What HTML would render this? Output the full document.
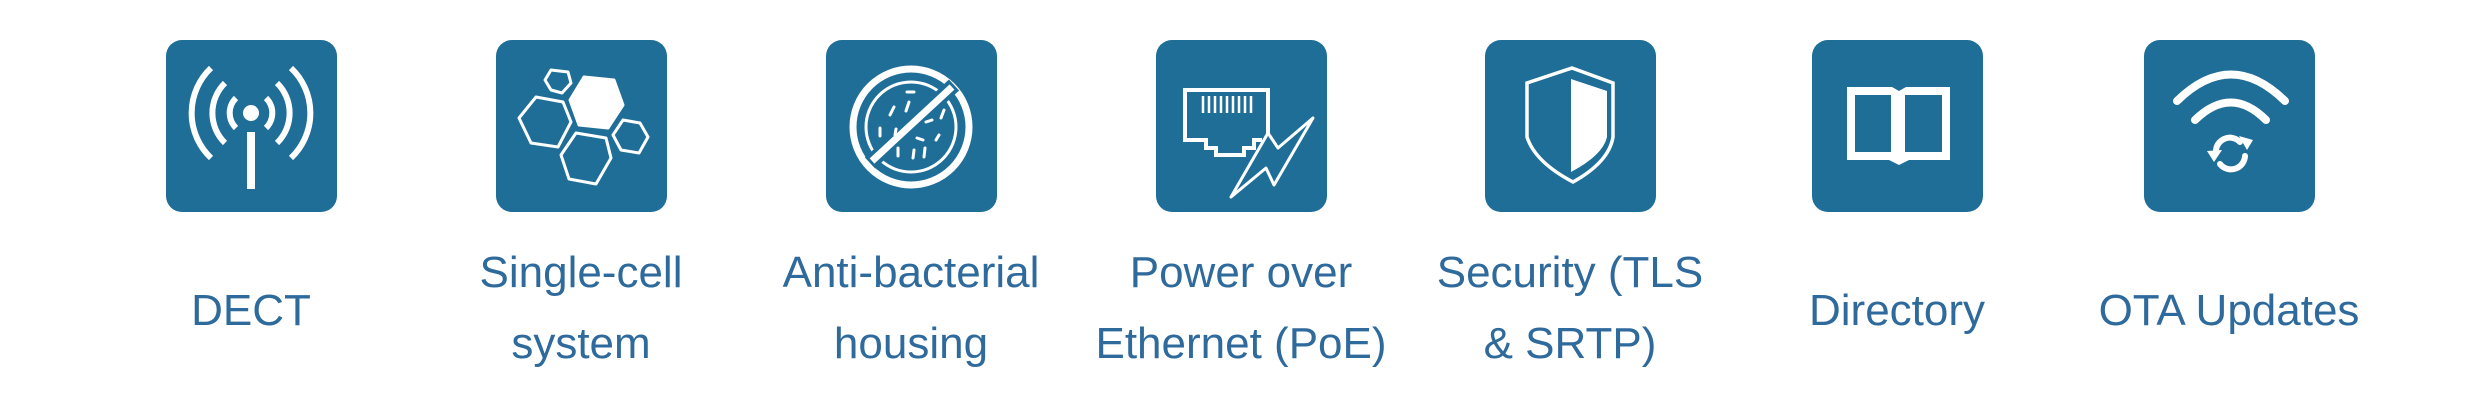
<!DOCTYPE html>
<html><head><meta charset="utf-8"><style>
html,body{margin:0;padding:0;background:#fff;}
body{width:2479px;height:404px;position:relative;overflow:hidden;font-family:"Liberation Sans",sans-serif;}
.box{position:absolute;top:40px;width:171px;height:172px;background:#1f6e98;border-radius:16px;}
.box svg{position:absolute;left:0;top:0;}
.lbl{position:absolute;width:330px;text-align:center;color:#2f6a9c;font-size:44px;line-height:71px;}
</style></head><body>

<div class="box" style="left:166px"><svg width="171" height="172" viewBox="0 0 171 172" fill="none" stroke="#fff">
<circle cx="85" cy="73" r="8" fill="#fff" stroke="none"/>
<rect x="81" y="92" width="8" height="57" fill="#fff" stroke="none"/>
<g stroke-width="6">
<path d="M70 58 A21 21 0 0 0 70 88"/><path d="M100 58 A21 21 0 0 1 100 88"/>
<path d="M59 43 A42 42 0 0 0 59 103"/><path d="M111 43 A42 42 0 0 1 111 103"/>
<path d="M45 28 A62 62 0 0 0 45 118"/><path d="M125 28 A62 62 0 0 1 125 118"/>
</g></svg></div>

<div class="box" style="left:496px"><svg width="171" height="172" viewBox="0 0 171 172" fill="none" stroke="#fff" stroke-width="3" stroke-linejoin="round">
<polygon points="55,30 72,32 75,43 66,53 55,50 49,40"/>
<polygon points="88,37 118,40 127,65 112,88 83,85 74,60" fill="#fff"/>
<polygon points="40,57 67,62 75,82 62,107 35,103 23,78"/>
<polygon points="80,93 110,98 115,118 100,144 73,139 65,115"/>
<polygon points="127,80 144,83 152,97 143,113 125,110 117,95"/>
</svg></div>

<div class="box" style="left:826px"><svg width="171" height="172" viewBox="0 0 171 172" fill="none" stroke="#fff">
<circle cx="85" cy="87" r="58" stroke-width="7"/>
<circle cx="85" cy="87" r="45" stroke-width="3"/>
<line x1="128" y1="45" x2="44" y2="123" stroke-width="15" stroke="#1f6e98"/>
<line x1="126" y1="47" x2="46" y2="121" stroke-width="7"/>
<g stroke-width="3" stroke-linecap="round">
<path d="M81 52 h7"/><path d="M83 62 l-3 9"/><path d="M68 67 l-4 8"/><path d="M54 88 v8"/><path d="M70 89 l-1 6"/><path d="M100 82 l6 -2"/><path d="M118 70 l-3 8"/><path d="M91 98 l6 2"/><path d="M113 95 l-3 5"/><path d="M72 108 v8"/><path d="M88 110 l-1 8"/><path d="M99 108 l-1 9"/></g>
</svg></div>

<div class="box" style="left:1156px"><svg width="171" height="172" viewBox="0 0 171 172" fill="none" stroke="#fff" stroke-width="4">
<path d="M112 94 V50 H29 V100 H50 V108 H60 V115 H88 V108 H98 V100 H106"/>
<g stroke-width="2.5"><path d="M47 56 v17 M53 56 v17 M59 56 v17 M65 56 v17 M71 56 v17 M77 56 v17 M83 56 v17 M89 56 v17 M95 56 v17"/></g>
<polygon points="75,157 112,93 122,108 157,78 118,145 110,128" stroke-width="3" stroke-linejoin="round"/>
</svg></div>

<div class="box" style="left:1485px"><svg width="171" height="172" viewBox="0 0 171 172" fill="none" stroke="#fff" stroke-width="3.5">
<path d="M87 28 L128 43 V97 Q124 122 88 142 Q50 122 42 97 V43 Z"/>
<path d="M86 39 L122 51 V97 Q118 115 86 132 Z" fill="#fff" stroke="none"/>
</svg></div>

<div class="box" style="left:1812px"><svg width="171" height="172" viewBox="0 0 171 172" fill="none">
<path d="M35 47 H80 L87 51 L94 47 H138 V120 H97 L87 125 L77 120 H35 Z" fill="#fff"/>
<rect x="43" y="55" width="36" height="57" fill="#1f6e98"/>
<rect x="93" y="55" width="37" height="57" fill="#1f6e98"/>
</svg></div>

<div class="box" style="left:2144px"><svg width="171" height="172" viewBox="0 0 171 172" fill="none" stroke="#fff" stroke-linecap="round">
<path d="M33 61 Q87 8 141 61" stroke-width="8"/>
<path d="M51 80 Q87 45 122 80" stroke-width="8"/>
<path d="M72 110 A14 14 0 0 1 96 102" stroke-width="6"/>
<path d="M101 116 A14 14 0 0 1 76 124" stroke-width="6"/>
<polygon points="95,96 109,100 103,110" fill="#fff" stroke="none"/>
<polygon points="63,111 78,110 70,122" fill="#fff" stroke="none"/>
</svg></div>

<div class="lbl" style="left:86px;top:275px">DECT</div>
<div class="lbl" style="left:416px;top:237px">Single-cell<br>system</div>
<div class="lbl" style="left:746px;top:237px">Anti-bacterial<br>housing</div>
<div class="lbl" style="left:1076px;top:237px">Power over<br>Ethernet (PoE)</div>
<div class="lbl" style="left:1405px;top:237px">Security (TLS<br>&amp; SRTP)</div>
<div class="lbl" style="left:1732px;top:275px">Directory</div>
<div class="lbl" style="left:2064px;top:275px">OTA Updates</div>
</body></html>
